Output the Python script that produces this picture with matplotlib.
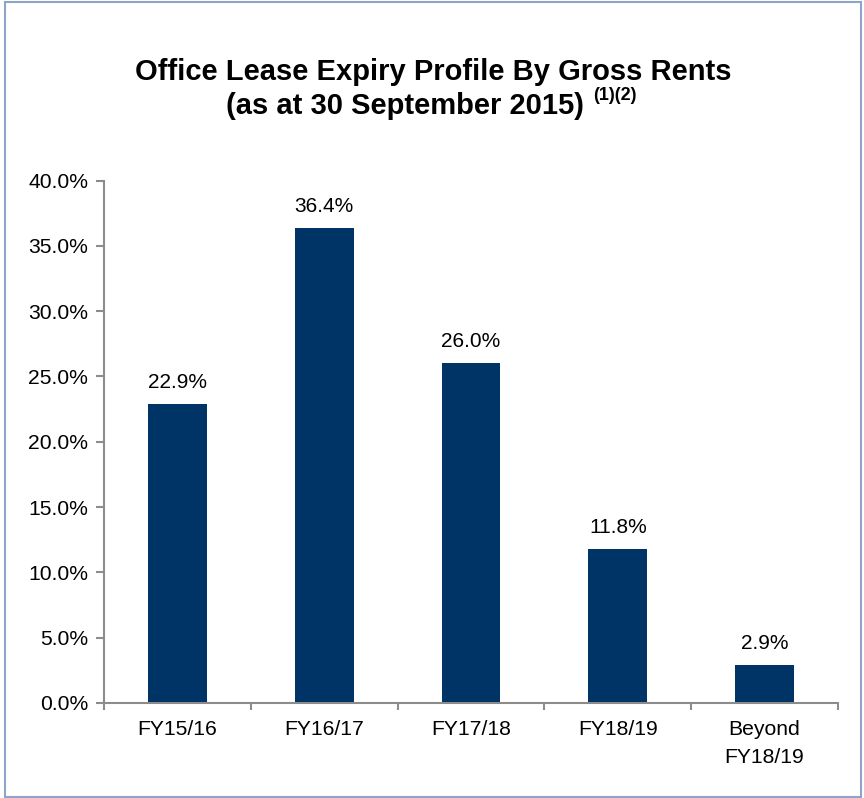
import matplotlib.pyplot as plt
from matplotlib.patches import Rectangle
from matplotlib.ticker import FuncFormatter, FixedLocator, NullFormatter

plt.rcParams['font.family'] = ['Liberation Sans', 'DejaVu Sans']

# Expiry profile, % of gross rents
periods = ['FY15/16', 'FY16/17', 'FY17/18', 'FY18/19', 'Beyond\nFY18/19']
shares = [22.9, 36.4, 26.0, 11.8, 2.9]

title_line1 = 'Office Lease Expiry Profile By Gross Rents'
title_line2 = '(as at 30 September 2015)'
title_notes = '(1)(2)'

navy = '#003366'
axis_grey = '#8c8c8c'

fig = plt.figure(figsize=(8.64, 7.98), dpi=100)
ax = fig.add_axes([104 / 864, 1 - 703 / 798, 734 / 864, 522.5 / 798])

x = list(range(len(periods)))
ax.bar(x, shares, width=0.4, color=navy, zorder=2)
for xi, v in zip(x, shares):
    ax.annotate(f'{v:.1f}%', (xi, v), xytext=(0, 11.5), textcoords='offset points',
                ha='center', va='baseline', fontsize=15, color='black')

ax.set_xlim(-0.5, len(periods) - 0.5)
ax.set_ylim(0, 40)
ax.set_yticks([0, 5, 10, 15, 20, 25, 30, 35, 40])
ax.yaxis.set_major_formatter(FuncFormatter(lambda v, _: f'{v:.1f}%'))

# category labels centred, tick marks on the boundaries
ax.set_xticks(x)
ax.set_xticklabels(periods, fontsize=15.2)
for lbl in ax.get_xticklabels():
    lbl.set_linespacing(1.6)
ax.tick_params(axis='x', which='major', length=0, pad=12)
ax.xaxis.set_minor_locator(FixedLocator([i - 0.5 for i in range(len(periods) + 1)]))
ax.xaxis.set_minor_formatter(NullFormatter())
ax.tick_params(axis='x', which='minor', length=5, width=1.5, color=axis_grey, direction='out')
ax.tick_params(axis='y', length=6, width=1.5, color=axis_grey, labelsize=15.2, pad=5.5)

for side in ('top', 'right'):
    ax.spines[side].set_visible(False)
for side in ('left', 'bottom'):
    ax.spines[side].set_color(axis_grey)
    ax.spines[side].set_linewidth(1.5)

# titles
fig.text(433 / 864, 1 - 79.5 / 798, title_line1, ha='center', va='baseline',
         fontsize=21, fontweight='bold')
t2 = fig.text(405.5 / 864, 1 - 113.5 / 798, title_line2, ha='center', va='baseline',
              fontsize=21, fontweight='bold')
fig.canvas.draw()
bb = t2.get_window_extent()
fig.text((bb.x1 + 9) / 864, 1 - 96 / 798, title_notes, ha='left', va='center',
         fontsize=13, fontweight='bold')

# frame round the chart
fig.patches.append(Rectangle((5 / 864, 1 / 798), 856 / 864, 795 / 798,
                             transform=fig.transFigure, fill=False,
                             edgecolor='#8ea4c8', linewidth=1.5))

fig.savefig('out.png', dpi=100)
